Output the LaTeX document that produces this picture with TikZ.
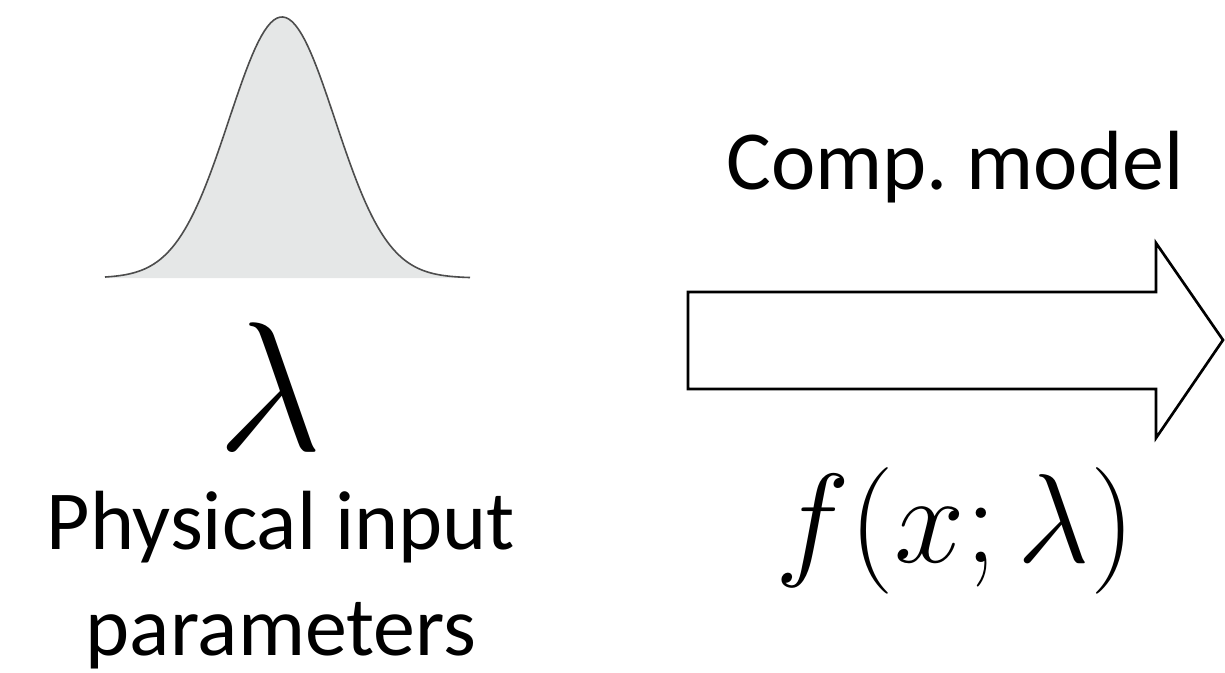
\RequirePackage{fix-cm}
\documentclass[tikz,border=0pt]{standalone}
\usepackage{amsmath}
\usepackage[no-math]{fontspec}
\setmainfont{Carlito}
\usetikzlibrary{calc}

\definecolor{bellfill}{HTML}{E5E7E7}
\definecolor{bellline}{HTML}{4D4D4D}

\tikzset{
  label text/.style={font=\fontsize{63}{79}\selectfont, align=center, inner sep=0pt},
  math text/.style={font=\fontsize{95}{100}\selectfont, inner sep=0pt},
  big lambda/.style={font=\fontsize{138}{140}\selectfont, inner sep=0pt},
  block arrow/.style={line width=2pt, line join=miter}
}

\begin{document}
\begin{tikzpicture}[x=0.75pt, y=-0.75pt]
\def\bellmid{282}
\def\bellsig{53}
\def\bellht{261}
\def\bellbase{278}

\useasboundingbox (0,0) rectangle (1225,672);

% input distribution
\fill[bellfill] plot[domain=105:470, samples=120]
  (\x, {\bellbase-\bellht*exp(-((\x-\bellmid)/\bellsig)^2/2)}) -- (470,\bellbase) -- (105,\bellbase) -- cycle;
\draw[bellline, line width=1.2pt] plot[domain=105:470, samples=120]
  (\x, {\bellbase-\bellht*exp(-((\x-\bellmid)/\bellsig)^2/2)});

\node[big lambda, anchor=base] (lam) at (270,450) {$\lambda$};
% base of a two-line node is the last line
\node[label text, anchor=base] (phys) at (281,655) {Physical input\\parameters};

% computational model
\coordinate (A1) at (688,292);
\coordinate (A2) at (1156,292);
\coordinate (A3) at (1156,243);
\coordinate (tip) at (1223,340);
\coordinate (A5) at (1156,438);
\coordinate (A6) at (1156,389);
\coordinate (A7) at (688,389);
\draw[block arrow] (A1) -- (A2) -- (A3) -- (tip) -- (A5) -- (A6) -- (A7) -- cycle;

\node[label text, anchor=base] (comp) at (955,189) {Comp.\ model};
\node[math text, anchor=base] (model) at (955,562) {$f(x;\lambda)$};
\end{tikzpicture}
\end{document}
